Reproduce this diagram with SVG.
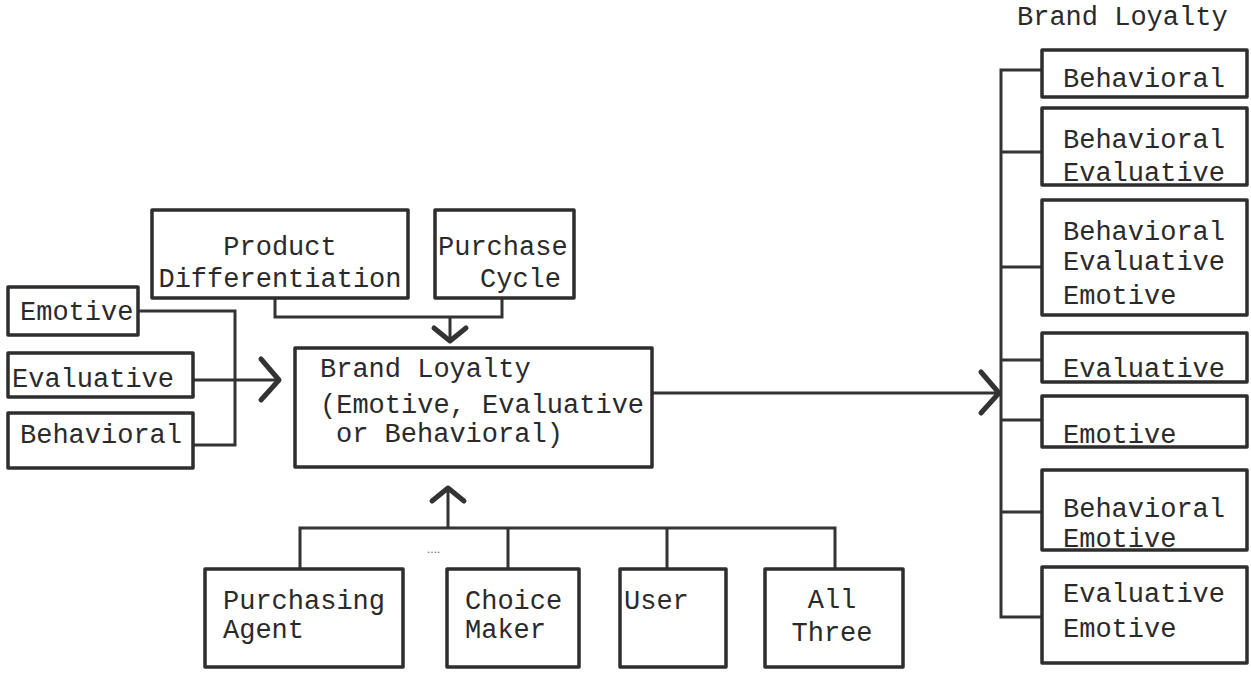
<svg xmlns="http://www.w3.org/2000/svg" width="1251" height="675" viewBox="0 0 1251 675">
<defs>
<style>
.box{fill:none;stroke:#2e2e2e;stroke-width:3.5;stroke-linejoin:round}
.ln{fill:none;stroke:#333;stroke-width:3}
.t{font-family:"Liberation Mono","DejaVu Sans Mono",monospace;font-size:27px;fill:#2a2a2a}
.c{text-anchor:middle}
</style>
<marker id="chev" markerUnits="userSpaceOnUse" markerWidth="50" markerHeight="50" viewBox="-25 -25 50 50" refX="0" refY="0" orient="auto" overflow="visible">
<path d="M-18,-21 L0,0 L-18,20" fill="none" stroke="#333" stroke-width="5" stroke-linecap="round" stroke-linejoin="round"/>
</marker>
<marker id="chevs" markerUnits="userSpaceOnUse" markerWidth="40" markerHeight="40" viewBox="-20 -20 40 40" refX="0" refY="0" orient="auto" overflow="visible">
<path d="M-13,-16 L0,0 L-13,16" fill="none" stroke="#333" stroke-width="5" stroke-linecap="round" stroke-linejoin="round"/>
</marker>
</defs>
<rect width="1251" height="675" fill="#ffffff"/>

<g id="connectors">
<path class="ln" d="M138,311 H235 V445 H193"/>
<path class="ln" d="M193,380 H279" marker-end="url(#chev)"/>
<path class="ln" d="M275,298 V317 H502 V298"/>
<path class="ln" d="M450,317 V341" marker-end="url(#chevs)"/>
<path class="ln" d="M300,569 V528 H835 V569"/>
<path class="ln" d="M508,528 V569 M667,528 V569"/>
<path class="ln" d="M448,528 V488" marker-end="url(#chevs)"/>
<path class="ln" d="M652,393 H999" marker-end="url(#chev)"/>
<path class="ln" d="M1042,70 H1001 V617 H1042 M1001,152 H1042 M1001,267 H1042 M1001,360 H1042 M1001,420 H1042 M1001,512 H1042"/>
</g>

<g id="emotive-in"><rect class="box" x="8" y="287" width="130" height="48"/><text class="t" x="20" y="320">Emotive</text></g>
<g id="evaluative-in"><rect class="box" x="8" y="353" width="185" height="44"/><text class="t" x="12" y="387">Evaluative</text></g>
<g id="behavioral-in"><rect class="box" x="8" y="413" width="185" height="55"/><text class="t" x="20" y="443">Behavioral</text></g>

<g id="product-diff"><rect class="box" x="152" y="210" width="256" height="88"/><text class="t c" x="280" y="255">Product</text><text class="t c" x="280" y="287">Differentiation</text></g>
<g id="purchase-cycle"><rect class="box" x="435" y="210" width="139" height="88"/><text class="t" x="438" y="255">Purchase</text><text class="t" x="480" y="287">Cycle</text></g>

<g id="brand-loyalty"><rect class="box" x="295" y="348" width="357" height="119"/><text class="t" x="320" y="377">Brand Loyalty</text><text class="t" x="320" y="413">(Emotive, Evaluative</text><text class="t" x="336" y="442">or Behavioral)</text></g>

<g id="purchasing-agent"><rect class="box" x="205" y="569" width="198" height="98"/><text class="t" x="223" y="609">Purchasing</text><text class="t" x="223" y="638">Agent</text></g>
<g id="choice-maker"><rect class="box" x="447" y="569" width="132" height="98"/><text class="t" x="465" y="609">Choice</text><text class="t" x="465" y="638">Maker</text></g>
<g id="user"><rect class="box" x="620" y="569" width="106" height="98"/><text class="t" x="624" y="609">User</text></g>
<g id="all-three"><rect class="box" x="765" y="569" width="138" height="98"/><text class="t c" x="832" y="608">All</text><text class="t c" x="832" y="641">Three</text></g>
<text x="427" y="553" style="font-family:'Liberation Sans',sans-serif;font-size:12px;fill:#666">....</text>

<text class="t" x="1017" y="25">Brand Loyalty</text>
<g id="r-behavioral"><rect class="box" x="1042" y="50" width="205" height="47"/><text class="t" x="1063" y="87">Behavioral</text></g>
<g id="r-beh-eval"><rect class="box" x="1042" y="108" width="205" height="77"/><text class="t" x="1063" y="148">Behavioral</text><text class="t" x="1063" y="181">Evaluative</text></g>
<g id="r-beh-eval-emo"><rect class="box" x="1042" y="200" width="205" height="115"/><text class="t" x="1063" y="240">Behavioral</text><text class="t" x="1063" y="270">Evaluative</text><text class="t" x="1063" y="304">Emotive</text></g>
<g id="r-evaluative"><rect class="box" x="1042" y="333" width="205" height="49"/><text class="t" x="1063" y="377">Evaluative</text></g>
<g id="r-emotive"><rect class="box" x="1042" y="396" width="205" height="51"/><text class="t" x="1063" y="443">Emotive</text></g>
<g id="r-beh-emo"><rect class="box" x="1042" y="470" width="205" height="80"/><text class="t" x="1063" y="517">Behavioral</text><text class="t" x="1063" y="547">Emotive</text></g>
<g id="r-eval-emo"><rect class="box" x="1042" y="567" width="205" height="96"/><text class="t" x="1063" y="602">Evaluative</text><text class="t" x="1063" y="637">Emotive</text></g>
</svg>
